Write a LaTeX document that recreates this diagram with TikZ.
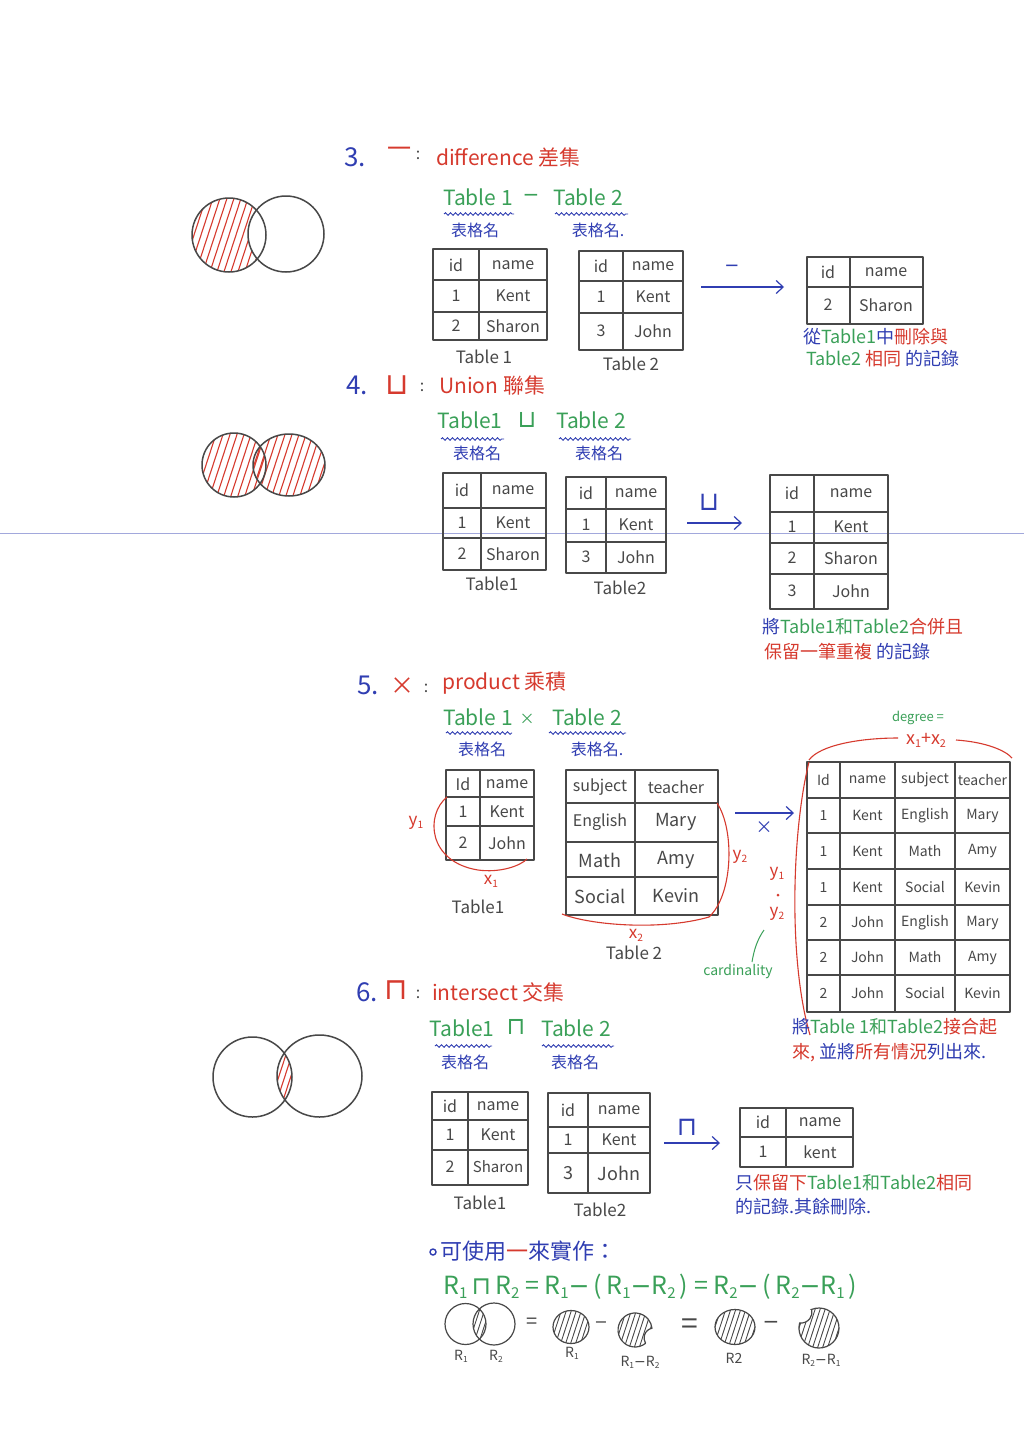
\documentclass[tikz,border=0pt]{standalone}
\usepackage{fontspec}
\setmainfont{Noto Sans CJK TC}
\newfontfamily\symfont{DejaVu Sans}
\usetikzlibrary{decorations.pathmorphing,arrows.meta}
\definecolor{pblue}{RGB}{48,62,178}
\definecolor{pred}{RGB}{214,58,46}
\definecolor{pgreen}{RGB}{58,160,88}
\definecolor{pencil}{RGB}{72,72,72}
\newcommand\cupsym{{\symfont ⊔}}
\newcommand\capsym{{\symfont ⊓}}
\newcommand\mns{{\symfont −}}
\newcommand\sbs[1]{\raisebox{-0.3ex}{\scalebox{0.6}{#1}}}
\newcommand\fs[1]{\fontsize{#1}{#1}\selectfont}
\newcommand\B[1]{\textcolor{pblue}{#1}}
\newcommand\R[1]{\textcolor{pred}{#1}}
\newcommand\G[1]{\textcolor{pgreen}{#1}}
\tikzset{
 pen/.style={draw=pencil, line width=1.4pt, line cap=round, line join=round},
 cell/.style={text=pencil, inner sep=0pt, font=\fs{16}},
 scell/.style={text=pencil, inner sep=0pt, font=\fs{14}},
 tcap/.style={text=pencil, inner sep=0pt, font=\fs{17}},
 num/.style={text=pblue, inner sep=0pt, font=\fs{26}},
 opsym/.style={text=pred, inner sep=0pt, font=\fs{24}},
 colon/.style={text=pencil, inner sep=0pt, font=\fs{16}},
 opname/.style={text=pred, inner sep=0pt, font=\fs{21}, anchor=west},
 expr/.style={text=pgreen, inner sep=0pt, font=\fs{21}},
 tname/.style={text=pblue, inner sep=0pt, font=\fs{16}},
 note/.style={text=pblue, inner sep=0pt, font=\fs{18}, anchor=west},
 rlab/.style={text=pred, inner sep=0pt, font=\fs{17}},
 wavy/.style={draw=pblue, line width=0.9pt, decorate, decoration={snake, amplitude=1.3pt, segment length=5pt}},
 arr/.style={draw=pblue, line width=1.2pt, -{Straight Barb[length=7pt,width=13pt]}},
 arrlab/.style={text=pblue, inner sep=0pt, font=\fs{22}},
 redline/.style={draw=pred, line width=1.1pt},
 hred/.style={draw=pred, line width=1.1pt},
 hgray/.style={draw=pencil, line width=0.9pt},
 circ/.style={draw=pencil, line width=1.5pt},
 scirc/.style={draw=pencil, line width=1.2pt},
 small/.style={text=pencil, inner sep=0pt, font=\fs{14}},
}
\newcommand\tgrid[6]{%
  \draw[pen] (#1,#2) rectangle (#3,#4);
  \foreach \c in {#5}{\draw[pen] (\c,#2) -- (\c,#4);}
  \foreach \r in {#6}{\draw[pen] (#1,\r) -- (#3,\r);}}
\newcommand\hatch[4]{\foreach \k in {#3}{\draw[#4] ({#1+\k-18},{#2+55}) -- ({#1+\k+18},{#2-55});}}
\begin{document}
\begin{tikzpicture}[x=1pt,y=-1pt]
\useasboundingbox (0,0) rectangle (1024,1449);
\fill[white] (0,0) rectangle (1024,1449);
% scan line
\draw[pblue!45, line width=0.8pt] (0,533) -- (1024,533);

%%%%%%%%%%%%%%%% Section 3
\node[num] (n3) at (355,157) {3.};
\node[opsym] (o3) at (399,152) {一};
\node[colon] (k3) at (418,155) {:};
\node[opname] (t3) at (436,157) {difference 差集};
\node[expr] (e3a) at (478,197) {Table 1};
\node[expr, font=\fs{20}] (e3m) at (531,198) {\mns};
\node[expr] (e3b) at (588,197) {Table 2};
\draw[wavy] (444,214) -- (514,214);
\draw[wavy] (555,214) -- (628,214);
\node[tname] (g3a) at (475,230) {表格名};
\node[tname] (g3b) at (598,230) {表格名.};
% venn
\begin{scope}
 \clip (229,235) circle (37);
 \hatch{229}{235}{-77,-70,...,77}{hred}
 \fill[white] (286,234) circle (38);
\end{scope}
\draw[circ] (229,235) circle (37);
\draw[circ] (286,234) circle (38);
% table 1
\tgrid{433}{249}{547}{340}{479}{280,312}
\node[cell] (c31a) at (456,265) {id};
\node[cell] (c31b) at (513,265) {name};
\node[cell] (c31c) at (456,296) {1};
\node[cell] (c31d) at (513,296) {Kent};
\node[cell] (c31e) at (456,326) {2};
\node[cell] (c31f) at (513,326) {Sharon};
\node[tcap] (p31) at (484,357) {Table 1};
% table 2
\tgrid{579}{251}{683}{350}{623}{281,313}
\node[cell] (c32a) at (601,266) {id};
\node[cell] (c32b) at (653,266) {name};
\node[cell] (c32c) at (601,297) {1};
\node[cell] (c32d) at (653,297) {Kent};
\node[cell] (c32e) at (601,331) {3};
\node[cell] (c32f) at (653,331) {John};
\node[tcap] (p32) at (631,364) {Table 2};
% arrow
\coordinate (a3s) at (701,287);
\coordinate (a3e) at (784,287);
\draw[arr] (a3s) -- (a3e);
\node[arrlab, font=\fs{18}] (l3) at (732,268) {\mns};
% result
\tgrid{807}{257}{923}{324}{850}{287}
\node[cell] (c33a) at (828,272) {id};
\node[cell] (c33b) at (886,272) {name};
\node[cell] (c33c) at (828,305) {2};
\node[cell] (c33d) at (886,305) {Sharon};
\node[note] (m31) at (803,337) {從\G{Table1}中\R{刪除與}};
\node[note] (m32) at (806,359) {\G{Table2} \R{相同} 的記錄};

%%%%%%%%%%%%%%%% Section 4
\node[num] (n4) at (357,385) {4.};
\node[opsym, font=\fs{30}] (o4) at (397,385) {\cupsym};
\node[colon] (k4) at (422,387) {:};
\node[opname] (t4) at (439,386) {Union 聯集};
\node[expr] (e4a) at (470,420) {Table1};
\node[expr, font=\fs{24}] (e4m) at (527,420) {\cupsym};
\node[expr] (e4b) at (591,420) {Table 2};
\draw[wavy] (441,439) -- (504,439);
\draw[wavy] (559,439) -- (631,439);
\node[tname] (g4a) at (477,453) {表格名};
\node[tname] (g4b) at (599,453) {表格名};
\begin{scope}
 \clip (234,465) ellipse [x radius=32, y radius=32];
 \hatch{234}{465}{-70,-63,...,70}{hred}
\end{scope}
\begin{scope}
 \clip (289,465) ellipse [x radius=36, y radius=31];
 \hatch{289}{465}{-70,-63,...,70}{hred}
\end{scope}
\draw[circ] (234,465) ellipse [x radius=32, y radius=32];
\draw[circ] (289,465) ellipse [x radius=36, y radius=31];
% table 1
\tgrid{443}{473}{546}{570}{481}{508,538}
\node[cell] (c41a) at (462,490) {id};
\node[cell] (c41b) at (513,490) {name};
\node[cell] (c41c) at (462,523) {1};
\node[cell] (c41d) at (513,523) {Kent};
\node[cell] (c41e) at (462,554) {2};
\node[cell] (c41f) at (513,554) {Sharon};
\node[tcap] (p41) at (492,584) {Table1};
% table 2
\tgrid{566}{477}{666}{573}{606}{509,542}
\node[cell] (c42a) at (586,493) {id};
\node[cell] (c42b) at (636,493) {name};
\node[cell] (c42c) at (586,525) {1};
\node[cell] (c42d) at (636,525) {Kent};
\node[cell] (c42e) at (586,557) {3};
\node[cell] (c42f) at (636,557) {John};
\node[tcap] (p42) at (620,588) {Table2};
\coordinate (a4s) at (687,523);
\coordinate (a4e) at (742,523);
\draw[arr] (a4s) -- (a4e);
\node[arrlab, font=\fs{26}] (l4) at (709,502) {\cupsym};
% result
\tgrid{770}{475}{888}{609}{814}{512,543,574}
\node[cell] (c43a) at (792,493) {id};
\node[cell] (c43b) at (851,493) {name};
\node[cell] (c43c) at (792,527) {1};
\node[cell] (c43d) at (851,527) {Kent};
\node[cell] (c43e) at (792,558) {2};
\node[cell] (c43f) at (851,558) {Sharon};
\node[cell] (c43g) at (792,591) {3};
\node[cell] (c43h) at (851,591) {John};
\node[note] (m41) at (762,627) {將\G{Table1和Table2}\R{合併且}};
\node[note] (m42) at (764,652) {\R{保留一筆重複} 的記錄};

%%%%%%%%%%%%%%%% Section 5
\node[num] (n5) at (368,685) {5.};
\node[opsym] (o5) at (402,686) {×};
\node[colon] (k5) at (426,688) {:};
\node[opname] (t5) at (442,683) {product 乘積};
\node[expr] (e5a) at (478,717) {Table 1};
\node[expr, font=\fs{15}] (e5m) at (527,719) {×};
\node[expr] (e5b) at (587,717) {Table 2};
\draw[wavy] (446,733) -- (512,733);
\draw[wavy] (549,733) -- (626,733);
\node[tname] (g5a) at (482,749) {表格名};
\node[tname] (g5b) at (597,749) {表格名.};
% table 1
\tgrid{446}{770}{534}{860}{480}{797,826}
\node[cell] (c51a) at (463,784) {Id};
\node[cell] (c51b) at (507,784) {name};
\node[cell] (c51c) at (463,812) {1};
\node[cell] (c51d) at (507,812) {Kent};
\node[cell] (c51e) at (463,843) {2};
\node[cell] (c51f) at (507,843) {John};
\node[tcap] (p51) at (478,907) {Table1};
\draw[redline] (447,797) .. controls (425,815) and (428,862) .. (478,870) .. controls (500,873) and (520,866) .. (527,859);
\node[rlab] (y51) at (416,823) {y\sbs{1}};
\node[rlab] (x51) at (491,881) {x\sbs{1}};
% table 2
\tgrid{566}{770}{718}{915}{635}{803,842,877}
\node[cell] (c52a) at (600,787) {subject};
\node[cell] (c52b) at (676,787) {teacher};
\node[cell] (c52c) at (600,822) {English};
\node[cell, font=\fs{18}] (c52d) at (676,822) {Mary};
\node[cell, font=\fs{18}] (c52e) at (600,860) {Math};
\node[cell, font=\fs{18}] (c52f) at (676,860) {Amy};
\node[cell, font=\fs{18}] (c52g) at (600,896) {Social};
\node[cell, font=\fs{18}] (c52h) at (676,896) {Kevin};
\node[tcap] (p52) at (634,953) {Table 2};
\draw[redline] (717,803) .. controls (735,830) and (733,895) .. (709,917);
\draw[redline] (562,914) .. controls (590,925) and (660,931) .. (709,917);
\node[rlab] (y52) at (740,857) {y\sbs{2}};
\node[rlab] (x52) at (636,935) {x\sbs{2}};
\coordinate (a5s) at (735,813);
\coordinate (a5e) at (794,813);
\draw[arr] (a5s) -- (a5e);
\node[arrlab, font=\fs{17}] (l5) at (764,828) {×};
% result
\tgrid{807}{762}{1010}{1012}{840,895,955}{798,833,869,905,940,975}
\node[scell] (r0a) at (823.5,780) {Id};
\node[scell] (r0b) at (867.5,780) {name};
\node[scell] (r0c) at (925,780) {subject};
\node[scell] (r0d) at (982.5,780) {teacher};
\node[scell] (r1a) at (823.5,815.5) {1};
\node[scell] (r1b) at (867.5,815.5) {Kent};
\node[scell] (r1c) at (925,815.5) {English};
\node[scell] (r1d) at (982.5,815.5) {Mary};
\node[scell] (r2a) at (823.5,851) {1};
\node[scell] (r2b) at (867.5,851) {Kent};
\node[scell] (r2c) at (925,851) {Math};
\node[scell] (r2d) at (982.5,851) {Amy};
\node[scell] (r3a) at (823.5,887) {1};
\node[scell] (r3b) at (867.5,887) {Kent};
\node[scell] (r3c) at (925,887) {Social};
\node[scell] (r3d) at (982.5,887) {Kevin};
\node[scell] (r4a) at (823.5,922.5) {2};
\node[scell] (r4b) at (867.5,922.5) {John};
\node[scell] (r4c) at (925,922.5) {English};
\node[scell] (r4d) at (982.5,922.5) {Mary};
\node[scell] (r5a) at (823.5,957.5) {2};
\node[scell] (r5b) at (867.5,957.5) {John};
\node[scell] (r5c) at (925,957.5) {Math};
\node[scell] (r5d) at (982.5,957.5) {Amy};
\node[scell] (r6a) at (823.5,993.5) {2};
\node[scell] (r6b) at (867.5,993.5) {John};
\node[scell] (r6c) at (925,993.5) {Social};
\node[scell] (r6d) at (982.5,993.5) {Kevin};
\node[text=pgreen, inner sep=0pt, font=\fs{13}] (dg) at (918,718) {degree =};
\node[rlab, font=\fs{18}] (dx) at (926,740) {x\sbs{1}+x\sbs{2}};
\draw[redline] (809,760) .. controls (820,745) and (860,738) .. (898,738);
\draw[redline] (956,740) .. controls (985,742) and (1005,750) .. (1012,758);
\draw[redline] (809,762) .. controls (792,830) and (788,960) .. (810,1035);
\node[rlab] (y53) at (777,874) {y\sbs{1}};
\fill[pred] (778,895) circle (1.5);
\node[rlab] (y54) at (777,914) {y\sbs{2}};
\draw[draw=pgreen, line width=1pt] (764,930) .. controls (757,940) and (754,950) .. (752,962);
\node[text=pgreen, inner sep=0pt, font=\fs{14}] (cd) at (738,972) {cardinality};
\node[note] (m51) at (792,1027) {將\G{Table 1和Table2}\R{接合起}};
\node[note] (m52) at (792,1053) {\R{來,} 並將\R{所有情況}列出來.};

%%%%%%%%%%%%%%%% Section 6
\node[num] (n6) at (367,992) {6.};
\node[opsym, font=\fs{30}] (o6) at (396,990) {\capsym};
\node[colon] (k6) at (418,994) {:};
\node[opname] (t6) at (432,992) {intersect 交集};
\node[expr] (e6a) at (462,1028) {Table1};
\node[expr, font=\fs{24}] (e6m) at (516,1027) {\capsym};
\node[expr] (e6b) at (576,1028) {Table 2};
\draw[wavy] (435,1046) -- (492,1046);
\draw[wavy] (542,1046) -- (614,1046);
\node[tname] (g6a) at (465,1062) {表格名};
\node[tname] (g6b) at (575,1062) {表格名};
\begin{scope}
 \clip (252.5,1077) ellipse [x radius=39.5, y radius=40];
 \clip (319.5,1076) ellipse [x radius=42.5, y radius=41];
 \hatch{286}{1076}{-49,-43,...,49}{hred}
\end{scope}
\draw[circ] (252.5,1077) ellipse [x radius=39.5, y radius=40];
\draw[circ] (319.5,1076) ellipse [x radius=42.5, y radius=41];
% table 1
\tgrid{432}{1092}{528}{1185}{468}{1120,1150}
\node[cell] (c61a) at (450,1106) {id};
\node[cell] (c61b) at (498,1106) {name};
\node[cell] (c61c) at (450,1135) {1};
\node[cell] (c61d) at (498,1135) {Kent};
\node[cell] (c61e) at (450,1167) {2};
\node[cell, font=\fs{15}] (c61f) at (498,1167) {Sharon};
\node[tcap] (p61) at (480,1203) {Table1};
% table 2
\tgrid{548}{1093}{650}{1193}{588}{1127,1153}
\node[cell] (c62a) at (568,1110) {id};
\node[cell] (c62b) at (619,1110) {name};
\node[cell] (c62c) at (568,1140) {1};
\node[cell] (c62d) at (619,1140) {Kent};
\node[cell, font=\fs{18}] (c62e) at (568,1173) {3};
\node[cell, font=\fs{18}] (c62f) at (619,1173) {John};
\node[tcap] (p62) at (600,1210) {Table2};
\coordinate (a6s) at (664,1143);
\coordinate (a6e) at (720,1143);
\draw[arr] (a6s) -- (a6e);
\node[arrlab, font=\fs{26}] (l6) at (687,1127) {\capsym};
% result
\tgrid{740}{1108}{853}{1167}{786}{1137}
\node[cell] (c63a) at (763,1122) {id};
\node[cell] (c63b) at (820,1122) {name};
\node[cell] (c63c) at (763,1152) {1};
\node[cell] (c63d) at (820,1152) {kent};
\node[note] (m61) at (735,1183) {只\R{保留下}\G{Table1和Table2}\R{相同}};
\node[note] (m62) at (735,1207) {的記錄.其餘刪除.};

%%%%%%%%%%%%%%%% Bottom
\draw[draw=pblue, line width=1.4pt] (433,1252) circle (3);
\node[note, font=\fs{22}] (b1) at (440,1251) {可使用\R{一}來實作：};
\node[expr, font=\fs{25}, anchor=west] (b2) at (443,1287) {R\sbs{1}\,\capsym\,R\sbs{2} = R\sbs{1}\mns\,(\,R\sbs{1}\mns R\sbs{2}\,) = R\sbs{2}\mns\,(\,R\sbs{2}\mns R\sbs{1}\,)};
% small venn
\begin{scope}
 \clip (465.5,1324) circle (20.5);
 \clip (494,1324) circle (21);
 \hatch{480}{1324}{-35,-30,...,35}{hgray}
\end{scope}
\draw[scirc] (465.5,1324) circle (20.5);
\draw[scirc] (494,1324) circle (21);
\node[small] (q1) at (461,1356) {R\sbs{1}};
\node[small] (q2) at (496,1356) {R\sbs{2}};
\node[text=pencil, inner sep=0pt, font=\fs{20}] (eq1) at (532,1323) {=};
% R1
\begin{scope}
 \clip (571,1327) ellipse [x radius=18, y radius=16.5];
 \hatch{571}{1327}{-45,-40,...,45}{hgray}
\end{scope}
\draw[scirc] (571,1327) ellipse [x radius=18, y radius=16.5];
\node[small] (q3) at (572,1353) {R\sbs{1}};
\node[text=pencil, inner sep=0pt, font=\fs{16}] (mn1) at (601,1325) {\mns};
% R1-R2 crescent
\begin{scope}
 \clip (645.6,1343.3) arc [start angle=51.6, end angle=354, radius=17] arc [start angle=257.9, end angle=147.8, radius=10] -- cycle;
 \hatch{635}{1330}{-45,-40,...,45}{hgray}
\end{scope}
\draw[scirc] (645.6,1343.3) arc [start angle=51.6, end angle=354, radius=17] arc [start angle=257.9, end angle=147.8, radius=10] -- cycle;
\node[small] (q4) at (640,1362) {R\sbs{1}\mns R\sbs{2}};
\node[text=pencil, inner sep=0pt, font=\fs{30}] (eq2) at (690,1327) {=};
% R2
\begin{scope}
 \clip (735,1327) ellipse [x radius=20, y radius=17.5];
 \hatch{735}{1327}{-45,-40,...,45}{hgray}
\end{scope}
\draw[scirc] (735,1327) ellipse [x radius=20, y radius=17.5];
\node[small] (q5) at (734,1358) {R2};
\node[text=pencil, inner sep=0pt, font=\fs{20}] (mn2) at (771,1325) {\mns};
% R2-R1
\begin{scope}
 \clip (811.67,1309.4) arc [start angle=248.5, end angle=554.7, radius=20] arc [start angle=97.1, end angle=-13.7, radius=11] -- cycle;
 \hatch{819}{1328}{-50,-45,...,50}{hgray}
\end{scope}
\draw[scirc] (811.67,1309.4) arc [start angle=248.5, end angle=554.7, radius=20] arc [start angle=97.1, end angle=-13.7, radius=11] -- cycle;
\node[small] (q6) at (821,1360) {R\sbs{2}\mns R\sbs{1}};
\end{tikzpicture}
\end{document}
